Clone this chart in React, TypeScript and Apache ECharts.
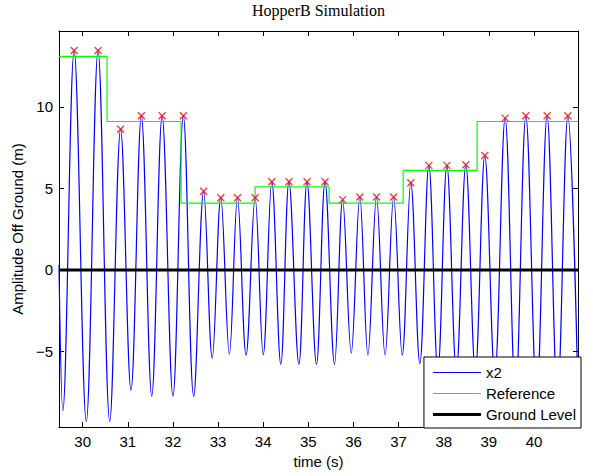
import React, { useEffect, useRef } from "react";
import * as echarts from "echarts";

// Axis limits (s, m)
const timeMin = 29.475;
const timeMax = 40.975;
const ampMin = -9.63;
const ampMax = 14.65;

const xTickValues = [30, 31, 32, 33, 34, 35, 36, 37, 38, 39, 40];
const yTickValues = [-5, 0, 5, 10];

// x2 signal: start, peaks, troughs, end
const x2Start: [number, number] = [29.475, 0.3];
const x2End: [number, number] = [40.975, -7.7];

const peakTimes = [29.81, 30.34, 30.84, 31.3, 31.76, 32.23, 32.68, 33.06, 33.43, 33.82, 34.19, 34.57, 34.97, 35.37, 35.76, 36.14, 36.51, 36.89, 37.27, 37.67, 38.07, 38.49, 38.91, 39.36, 39.82, 40.29, 40.75];
const peakValues = [13.45, 13.45, 8.63, 9.45, 9.45, 9.45, 4.82, 4.43, 4.43, 4.43, 5.41, 5.41, 5.41, 5.41, 4.31, 4.47, 4.47, 4.47, 5.35, 6.41, 6.41, 6.45, 7.02, 9.31, 9.45, 9.45, 9.45];

const troughTimes = [29.56, 30.08, 30.6, 31.07, 31.53, 32.0, 32.46, 32.87, 33.25, 33.62, 34.0, 34.39, 34.79, 35.18, 35.58, 35.95, 36.32, 36.7, 37.08, 37.47, 37.87, 38.28, 38.7, 39.13, 39.59, 40.06, 40.52];
const troughValues = [-8.63, -9.29, -9.29, -7.37, -7.74, -7.74, -7.76, -5.41, -5.16, -5.22, -5.2, -5.78, -5.78, -5.78, -5.78, -5.1, -5.22, -5.22, -5.22, -5.74, -6.2, -6.2, -6.22, -6.5, -7.67, -7.74, -7.74];

// Reference step signal: time of change, new level
const refTimes = [29.475, 30.54, 32.18, 33.82, 35.46, 37.1, 38.74, 40.975];
const refLevels = [13.1, 9.1, 4.1, 5.1, 4.1, 6.1, 9.1, 9.1];

const groundLevel = 0;

const fmt = (v: number) => (v < 0 ? "\u2212" + Math.abs(v) : String(v));

// legend line icons (thin bar inside a 48x14 box; tiny corner points fix the box)
const thinIcon =
  "path://M0,0L0.001,0L0,0.001Z M0,6.4L48,6.4L48,7.6L0,7.6Z M48,14L47.999,14L48,13.999Z";
const thickIcon =
  "path://M0,0L0.001,0L0,0.001Z M0,5.5L48,5.5L48,8.5L0,8.5Z M48,14L47.999,14L48,13.999Z";

export default function App() {
  const ref = useRef<HTMLDivElement>(null);

  useEffect(() => {
    if (!ref.current) return;
    const chart = echarts.init(ref.current, undefined, { renderer: "svg" });

    const x2Data: [number, number][] = [x2Start];
    peakTimes.forEach((t, i) => x2Data.push([t, peakValues[i]]));
    troughTimes.forEach((t, i) => x2Data.push([t, troughValues[i]]));
    x2Data.push(x2End);
    x2Data.sort((a, b) => a[0] - b[0]);

    const refData = refTimes.map((t, i) => [t, refLevels[i]]);
    const groundData = [
      [timeMin, groundLevel],
      [timeMax, groundLevel],
    ];
    const peakData = peakTimes.map((t, i) => [t, peakValues[i]]);

    const font = "Liberation Sans, Arial, Helvetica, sans-serif";
    const axisCommon = {
      type: "value" as const,
      axisLine: { show: true, onZero: false, lineStyle: { color: "#000", width: 1 } },
      splitLine: { show: false },
    };

    chart.setOption({
      animation: false,
      backgroundColor: "#fff",
      title: {
        text: "HopperB Simulation",
        left: 252,
        top: 2,
        padding: 0,
        textStyle: {
          fontFamily: "Liberation Serif, Times New Roman, serif",
          fontSize: 16,
          fontWeight: "normal",
          color: "#000",
        },
      },
      grid: { left: 59, right: 15, top: 31, bottom: 49, show: false },
      legend: {
        data: [
          { name: "x2", icon: thinIcon, itemStyle: { color: "#0000ff", borderWidth: 0 } },
          { name: "Reference", icon: thinIcon, itemStyle: { color: "#00ff00", borderWidth: 0 } },
          { name: "Ground Level", icon: thickIcon, itemStyle: { color: "#000000", borderWidth: 0 } },
        ],
        orient: "vertical",
        right: 12,
        bottom: 48,
        itemWidth: 48,
        itemHeight: 14,
        itemGap: 6,
        padding: [8, 5, 6, 9],
        backgroundColor: "#fff",
        borderColor: "#000",
        borderWidth: 1,
        borderRadius: 0,
        selectedMode: false,
        textStyle: { fontFamily: font, fontSize: 15, color: "#000" },
      },
      xAxis: [
        {
          ...axisCommon,
          position: "bottom",
          min: timeMin,
          max: timeMax,
          name: "time (s)",
          nameLocation: "middle",
          nameGap: 27,
          nameTextStyle: { fontFamily: font, fontSize: 15, color: "#000" },
          axisTick: { show: true, inside: true, length: 5, customValues: xTickValues, lineStyle: { color: "#000" } },
          axisLabel: { show: true, margin: 7, customValues: xTickValues, formatter: fmt, fontFamily: font, fontSize: 15, color: "#000" },
        },
        {
          ...axisCommon,
          position: "top",
          min: timeMin,
          max: timeMax,
          axisTick: { show: true, inside: true, length: 5, customValues: xTickValues, lineStyle: { color: "#000" } },
          axisLabel: { show: false },
        },
      ],
      yAxis: [
        {
          ...axisCommon,
          position: "left",
          min: ampMin,
          max: ampMax,
          name: "Amplitude Off Ground (m)",
          nameLocation: "middle",
          nameGap: 22,
          nameTextStyle: { fontFamily: font, fontSize: 15, color: "#000" },
          axisTick: { show: true, inside: true, length: 5, customValues: yTickValues, lineStyle: { color: "#000" } },
          axisLabel: { show: true, margin: 6, customValues: yTickValues, formatter: fmt, fontFamily: font, fontSize: 15, color: "#000" },
        },
        {
          ...axisCommon,
          position: "right",
          min: ampMin,
          max: ampMax,
          axisTick: { show: true, inside: true, length: 5, customValues: yTickValues, lineStyle: { color: "#000" } },
          axisLabel: { show: false },
        },
      ],
      series: [
        {
          name: "x2",
          type: "line",
          data: x2Data,
          smooth: 0.38,
          symbol: "none",
          lineStyle: { color: "#0000ff", width: 1.2 },
          itemStyle: { color: "#0000ff" },
          z: 2,
        },
        {
          name: "Reference",
          type: "line",
          data: refData,
          step: "end",
          symbol: "none",
          lineStyle: { color: "#00ff00", width: 1.2 },
          itemStyle: { color: "#00ff00" },
          z: 3,
        },
        {
          name: "Ground Level",
          type: "line",
          data: groundData,
          symbol: "none",
          lineStyle: { color: "#000", width: 3 },
          itemStyle: { color: "#000" },
          z: 4,
        },
        {
          name: "Peaks",
          type: "scatter",
          data: peakData,
          symbol: "path://M0,0L10,10M10,0L0,10",
          symbolSize: 7,
          itemStyle: { color: "#ff0000", borderColor: "#ff0000", borderWidth: 1.3 },
          z: 5,
        },
      ],
    });

    return () => chart.dispose();
  }, []);

  return (
    <div
      ref={ref}
      style={{ position: "absolute", left: 0, top: 0, width: 593, height: 476 }}
    />
  );
}
